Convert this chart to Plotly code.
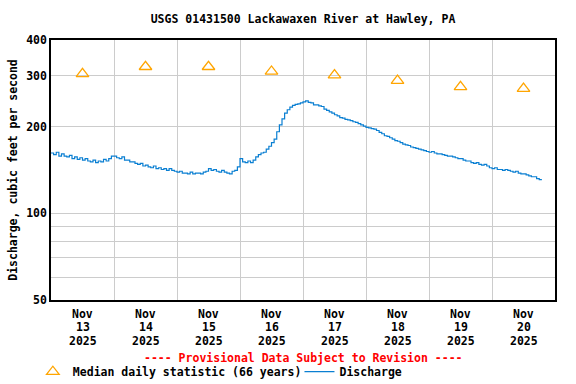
import pandas as pd
import plotly.graph_objects as go

# ---- data ----
start_time = "2025-11-13 00:00"
# hourly discharge, cubic feet per second
flow_nov13 = [162, 160, 163, 158, 161, 158, 157, 159, 155, 157, 154, 156,
              153, 155, 152, 151, 153, 150, 152, 151, 154, 152, 155, 158]
flow_nov14 = [158, 156, 155, 157, 153, 153, 151, 151, 149, 148, 149, 146,
              147, 145, 144, 146, 143, 144, 142, 143, 141, 143, 141, 140]
flow_nov15 = [139, 140, 138, 138, 137, 139, 137, 138, 138, 137, 139, 140,
              143, 141, 142, 140, 139, 141, 139, 138, 137, 140, 141, 145]
flow_nov16 = [155, 151, 150, 152, 150, 153, 157, 160, 162, 163, 167, 171,
              176, 181, 192, 203, 213, 223, 229, 234, 237, 239, 240, 242]
flow_nov17 = [244, 246, 243, 242, 238, 238, 236, 235, 230, 228, 225, 223,
              220, 218, 215, 214, 212, 211, 210, 208, 207, 205, 203, 201]
flow_nov18 = [199, 198, 197, 196, 194, 191, 189, 186, 185, 183, 181, 179,
              178, 176, 174, 173, 172, 170, 169, 168, 167, 166, 165, 164]
flow_nov19 = [163, 164, 162, 161, 161, 160, 159, 158, 158, 157, 156, 155,
              155, 153, 152, 152, 150, 149, 150, 148, 147, 148, 146, 144]
flow_nov20 = [143, 144, 142, 142, 141, 142, 141, 140, 139, 140, 138, 137,
              137, 136, 135, 134, 134, 132, 131, 131]

median_days = ["2025-11-13 12:00", "2025-11-14 12:00", "2025-11-15 12:00",
               "2025-11-16 12:00", "2025-11-17 12:00", "2025-11-18 12:00",
               "2025-11-19 12:00", "2025-11-20 12:00"]
median_values = [305, 323, 323, 311, 302, 289, 275, 271]

day_months = ["Nov"] * 8
day_numbers = ["13", "14", "15", "16", "17", "18", "19", "20"]
day_years = ["2025"] * 8

y_tickvals = [50, 60, 70, 80, 90, 100, 200, 300, 400]
y_ticktext = ["50", "", "", "", "", "100", "200", "300", "400"]

x_range = ["2025-11-13 00:00", "2025-11-21 00:00"]

flow = (flow_nov13 + flow_nov14 + flow_nov15 + flow_nov16 +
        flow_nov17 + flow_nov18 + flow_nov19 + flow_nov20)
times = pd.date_range(start_time, periods=len(flow), freq="h")

FONT = "DejaVu Sans Mono"
BLUE = "#0A7FD2"
ORANGE = "#FFA500"
GRID = "#CCCCCC"
LEGEND_FONT = dict(family=FONT, size=11.5, color="black", weight="bold")

fig = go.Figure()
fig.add_trace(go.Scatter(
    x=median_days, y=median_values, mode="markers",
    name="Median daily statistic (66 years)", legend="legend",
    marker=dict(symbol="triangle-up-open", size=11, color=ORANGE,
                line=dict(width=1.3, color=ORANGE)),
))
fig.add_trace(go.Scatter(
    x=times, y=flow, mode="lines", name="Discharge", legend="legend2",
    line=dict(color=BLUE, width=1.2, shape="hv"),
))

fig.update_layout(
    width=576, height=384,
    margin=dict(l=51, r=21, t=40, b=84, autoexpand=False),
    paper_bgcolor="white", plot_bgcolor="white",
    font=dict(family=FONT, size=11.5, color="black", weight="bold"),
    title=dict(text="USGS 01431500 Lackawaxen River at Hawley, PA",
               x=0.5, xref="paper", xanchor="center",
               y=1 - 19 / 384, yref="container", yanchor="middle",
               font=dict(family=FONT, size=11.5, color="black", weight="bold")),
    showlegend=True,
    legend=dict(orientation="h", x=-0.036, xanchor="left",
                y=-0.22, yanchor="top", font=LEGEND_FONT,
                bgcolor="rgba(0,0,0,0)", itemwidth=30),
    legend2=dict(orientation="h", x=0.493, xanchor="left",
                 y=-0.22, yanchor="top", font=LEGEND_FONT,
                 bgcolor="rgba(0,0,0,0)", itemwidth=30),
)

fig.update_xaxes(
    type="date", range=x_range, automargin=False,
    showticklabels=False, ticks="",
    tick0="2025-11-13", dtick=86400000,
    showgrid=True, gridcolor=GRID, gridwidth=1,
    showline=True, linecolor="black", linewidth=1.5, mirror=True,
    zeroline=False,
)
fig.update_yaxes(
    type="log", range=[1.69897, 2.60206], automargin=False,
    tickvals=y_tickvals, ticktext=y_ticktext,
    showgrid=True, gridcolor=GRID, gridwidth=1,
    ticks="", tickfont=dict(family=FONT, size=11.5, color="black", weight="bold"),
    showline=True, linecolor="black", linewidth=1.5, mirror=True,
    zeroline=False,
    title=dict(text="Discharge, cubic feet per second", standoff=6,
               font=dict(family=FONT, size=11.5, color="black", weight="bold")),
)

# multi-line date labels under each day
for d, mo, dn, yr in zip(median_days, day_months, day_numbers, day_years):
    for i, txt in enumerate([mo, dn, yr]):
        fig.add_annotation(x=d, xref="x", y=0, yref="paper",
                           text=txt, showarrow=False,
                           xanchor="center", yanchor="middle",
                           yshift=-(14 + 13.3 * i),
                           font=dict(family=FONT, size=11.5, color="black",
                                     weight="bold"))

fig.add_annotation(x=0.5, xref="paper", y=0, yref="paper",
                   text="---- Provisional Data Subject to Revision ----",
                   showarrow=False, xanchor="center", yanchor="middle",
                   yshift=-58,
                   font=dict(family=FONT, size=11.5, color="red", weight="bold"))

fig.write_html("out.html", config={"displayModeBar": False},
               post_script="document.body.style.margin='0';document.body.style.padding='0';")
